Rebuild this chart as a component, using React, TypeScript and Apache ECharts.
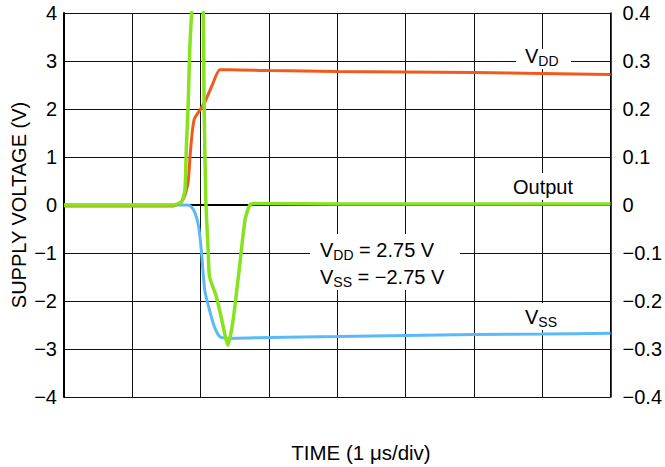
import React, { useEffect, useRef } from 'react';
import * as echarts from 'echarts';

// Time axis in divisions (1 µs/div), 8 divisions shown
const timeMin = 0;
const timeMax = 8;
const timeInterval = 1;

// Left axis: supply voltage (V)
const supplyMin = -4;
const supplyMax = 4;
const supplyInterval = 1;

// Right axis: output voltage (V)
const outMin = -0.4;
const outMax = 0.4;
const outInterval = 0.1;

// VDD supply trace
const vddTime = [0, 1.6, 1.72, 1.78, 1.82, 1.85, 1.88, 1.91, 1.99, 2.06, 2.17, 2.28, 2.45, 3.0, 4.0, 5.0, 6.0, 7.0, 8.0];
const vddVolts = [-0.02, -0.02, 0.07, 0.25, 0.52, 1.1, 1.55, 1.8, 1.98, 2.14, 2.5, 2.82, 2.82, 2.8, 2.78, 2.77, 2.76, 2.74, 2.72];

// VSS supply trace
const vssTime = [0, 1.8, 1.86, 1.92, 1.97, 2.01, 2.06, 2.13, 2.2, 2.28, 2.4, 3.0, 4.0, 5.0, 6.0, 7.0, 8.0];
const vssVolts = [0, 0, -0.03, -0.17, -0.45, -0.94, -1.77, -2.19, -2.53, -2.74, -2.78, -2.76, -2.74, -2.72, -2.7, -2.69, -2.67];

// Output trace (right axis, V)
const outTime = [0, 1.6, 1.72, 1.77, 1.79, 1.82, 1.84, 1.87, 1.95, 2.037, 2.05, 2.076, 2.11, 2.13, 2.23, 2.3, 2.4, 2.475, 2.57, 2.65, 2.72, 2.8, 4.0, 6.0, 8.0];
const outVolts = [0, 0, 0.007, 0.031, 0.115, 0.219, 0.323, 0.406, 0.63, 0.406, 0.219, 0.01, -0.094, -0.149, -0.191, -0.233, -0.292, -0.24, -0.128, -0.031, 0.0, 0.003, 0.002, 0.002, 0.002];

const FONT = 'Liberation Sans, Arial, Helvetica, sans-serif';

const pairs = (xs: number[], ys: number[]) => xs.map((x, i) => [x, ys[i]]);
const minusFmt = (s: string) => s.replace('-', '\u2212');

const richStyles = {
  v: { fontSize: 20, lineHeight: 24, fontFamily: FONT, fill: '#000', verticalAlign: 'middle' },
  s: { fontSize: 14, lineHeight: 14, fontFamily: FONT, fill: '#000', verticalAlign: 'bottom' },
};

function label(text: string, x: number, y: number) {
  return {
    type: 'text',
    x,
    y,
    z: 60,
    style: {
      text,
      rich: richStyles,
      fontFamily: FONT,
      fontSize: 20,
      fill: '#000',
      align: 'left',
      verticalAlign: 'middle',
    },
  };
}

function whiteRect(x: number, y: number, width: number, height: number) {
  return { type: 'rect', z: 50, shape: { x, y, width, height }, style: { fill: '#fff' } };
}

export default function App() {
  const ref = useRef<HTMLDivElement>(null);

  useEffect(() => {
    if (!ref.current) return;
    const chart = echarts.init(ref.current, null, { renderer: 'svg' });
    chart.setOption({
      animation: false,
      backgroundColor: '#fff',
      grid: { left: 64, top: 13, width: 547, height: 384 },
      xAxis: {
        type: 'value',
        min: timeMin,
        max: timeMax,
        interval: timeInterval,
        axisLine: { show: true, lineStyle: { color: '#000', width: 2 } },
        axisTick: { show: false },
        axisLabel: { show: false },
        splitLine: { show: true, lineStyle: { color: '#111', width: 1 } },
      },
      yAxis: [
        {
          type: 'value',
          position: 'left',
          min: supplyMin,
          max: supplyMax,
          interval: supplyInterval,
          axisLine: { show: true, lineStyle: { color: '#000', width: 2 } },
          axisTick: { show: false },
          axisLabel: {
            margin: 7,
            color: '#000',
            fontSize: 20,
            fontFamily: FONT,
            formatter: (v: number) => minusFmt(String(v)),
          },
          splitLine: { show: true, lineStyle: { color: '#111', width: 1 } },
        },
        {
          type: 'value',
          position: 'right',
          min: outMin,
          max: outMax,
          interval: outInterval,
          axisLine: { show: true, lineStyle: { color: '#000', width: 1.5 } },
          axisTick: { show: false },
          axisLabel: {
            margin: 12,
            color: '#000',
            fontSize: 20,
            fontFamily: FONT,
            formatter: (v: number) => (Math.abs(v) < 1e-9 ? '0' : minusFmt(v.toFixed(1))),
          },
          splitLine: { show: false },
        },
      ],
      series: [
        {
          name: 'VSS',
          type: 'line',
          yAxisIndex: 0,
          data: pairs(vssTime, vssVolts),
          showSymbol: false,
          symbol: 'none',
          smooth: 0.2,
          lineStyle: { color: '#5cb8f7', width: 3 },
          z: 3,
        },
        {
          name: 'VDD',
          type: 'line',
          yAxisIndex: 0,
          data: pairs(vddTime, vddVolts),
          showSymbol: false,
          symbol: 'none',
          smooth: 0.2,
          lineStyle: { color: '#f15a1e', width: 3 },
          z: 4,
        },
        {
          name: 'Output',
          type: 'line',
          yAxisIndex: 1,
          data: pairs(outTime, outVolts),
          showSymbol: false,
          symbol: 'none',
          smooth: 0.2,
          lineStyle: { color: '#86e31e', width: 3.5 },
          z: 5,
        },
      ],
      graphic: [
        whiteRect(516, 49, 55, 20),
        label('{v|V}{s|DD}', 525, 55.5),
        whiteRect(505, 173, 80, 27),
        label('Output', 513, 187),
        whiteRect(518, 303, 52, 27),
        label('{v|V}{s|SS}', 525, 316.5),
        whiteRect(310, 234, 150, 56),
        label('{v|V}{s|DD}{v| = 2.75 V}', 320, 250),
        label('{v|V}{s|SS}{v| = \u22122.75 V}', 320, 276.5),
        {
          type: 'text',
          x: 19,
          y: 205,
          rotation: Math.PI / 2,
          z: 60,
          style: { text: 'SUPPLY VOLTAGE (V)', fontFamily: FONT, fontSize: 20, fill: '#000', align: 'center', verticalAlign: 'middle' },
        },
        {
          type: 'text',
          x: 676,
          y: 215,
          rotation: Math.PI / 2,
          z: 60,
          style: { text: 'OUTPUT VOLTAGE (V)', fontFamily: FONT, fontSize: 20, fill: '#000', align: 'center', verticalAlign: 'middle' },
        },
        {
          type: 'text',
          x: 361,
          y: 452,
          z: 60,
          style: { text: 'TIME (1 \u03bcs/div)', fontFamily: FONT, fontSize: 20.5, fill: '#000', align: 'center', verticalAlign: 'middle' },
        },
      ],
    });
    return () => chart.dispose();
  }, []);

  return <div ref={ref} style={{ position: 'fixed', left: 0, top: 0, width: 665, height: 467, background: '#fff' }} />;
}
